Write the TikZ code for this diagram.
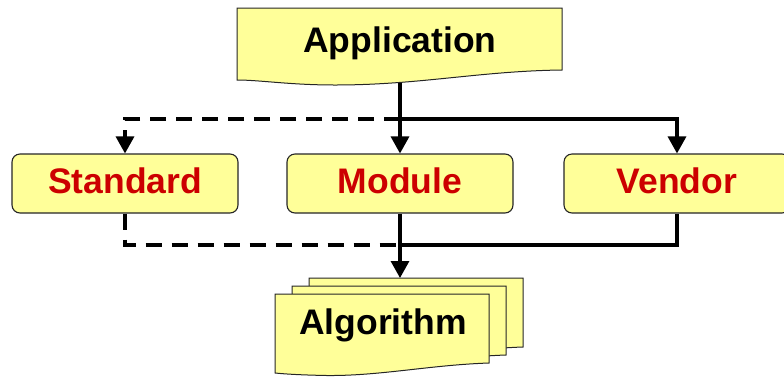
\documentclass[tikz,border=0pt]{standalone}
\usepackage{fontspec}
\setmainfont{Liberation Sans}
\usetikzlibrary{arrows.meta}
\definecolor{paper}{HTML}{FFFF99}
\definecolor{labelred}{HTML}{CC0000}

\begin{document}
\begin{tikzpicture}[x=1pt,y=-1pt,
  conn/.style={line width=3.2pt},
  tip/.style={-{Triangle[length=17pt 0 0,width=18pt 0 0]}},
  dashline/.style={dash pattern=on 16pt off 10pt},
  boxnode/.style={draw=black!85, line width=1.1pt, fill=paper, rounded corners=8pt,
    minimum width=226pt, minimum height=59pt, inner sep=0pt,
    font=\fontsize{35.5}{40}\selectfont\bfseries, text=labelred,
    text height=25pt, text depth=6pt},
  docshape/.style={draw=black!85, line width=1pt, fill=paper},
  doctext/.style={font=\fontsize{35.5}{40}\selectfont\bfseries, anchor=base, inner sep=0pt},
  algsheet/.pic={
    \path[docshape] (0,0) -- (214,0) -- (214,69)
      .. controls (155,71) and (105,82) .. (52,81.5)
      .. controls (25,81) and (10,80) .. (0,79) -- cycle;
  }]

\useasboundingbox (0,0) rectangle (784,376);

% the three component boxes
\node[boxnode] (std) at (125,183.5) {Standard};
\node[boxnode] (mod) at (400,183.5) {Module};
\node[boxnode] (ven) at (677,183.5) {Vendor};

% stacked algorithm sheets, back to front
\pic at (309,278) {algsheet};
\pic at (292,286) {algsheet};
\pic at (275,294) {algsheet};
\node[doctext] (algtext) at (383,334) {Algorithm};

% junction points of the connectors
\coordinate (appfoot) at (400,80);
\coordinate (split) at (400,119);
\coordinate (merge) at (400,245);
\coordinate (algtop) at (400,278);

\draw[conn,tip] (appfoot) -- (mod.north);
\draw[conn,tip] (split) -| (ven.north);
\draw[conn,tip,dashline] (split) -| (std.north);
\draw[conn] (ven.south) |- (merge);
\draw[conn,dashline] (std.south) |- (merge);
\draw[conn,tip] (mod.south) -- (algtop);

% application document on top
\path[docshape] (237,8) -- (562,8) -- (562,70)
  .. controls (480,71) and (420,85) .. (335,85)
  .. controls (290,85) and (260,80) .. (237,80) -- cycle;
\node[doctext] (apptext) at (400,52) {Application};

\end{tikzpicture}
\end{document}
